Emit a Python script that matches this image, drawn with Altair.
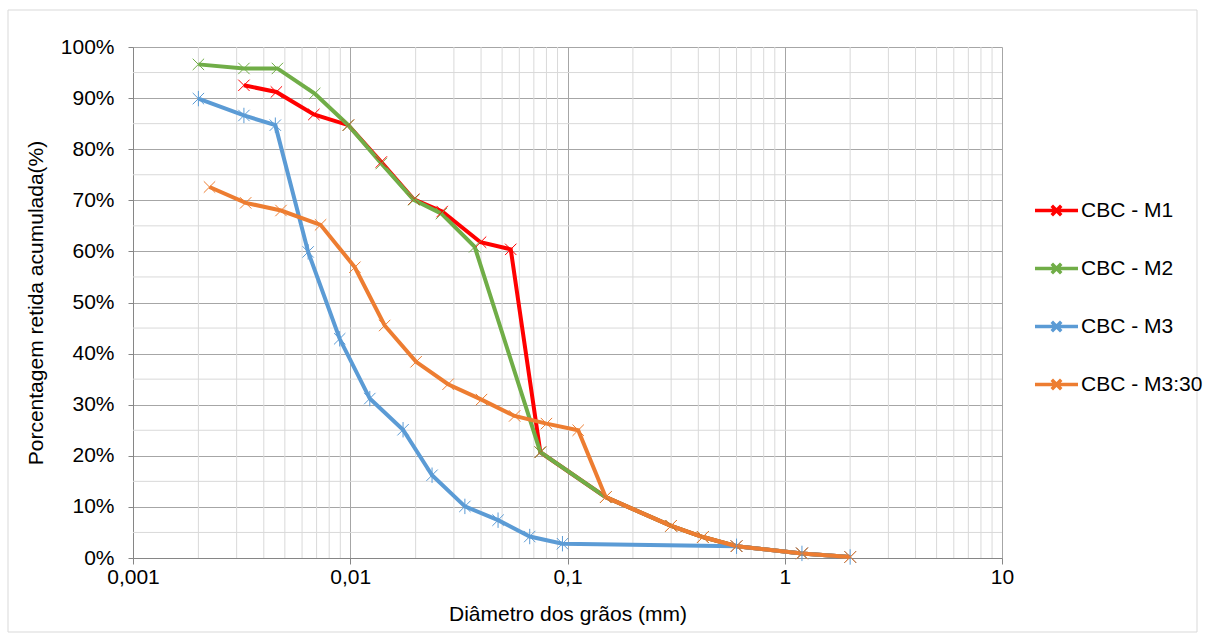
import altair as alt
import pandas as pd

series_names = ["CBC - M1", "CBC - M2", "CBC - M3", "CBC - M3:30"]
series_colors = ["#FF0000", "#70AD47", "#5B9BD5", "#ED7D31"]

m1_d = [0.00324, 0.00457, 0.0068, 0.0098, 0.0139, 0.0196, 0.0265, 0.0398, 0.0548, 0.075, 0.15, 0.3, 0.42, 0.6, 1.2, 2.0]
m1_p = [92.5, 91.2, 86.8, 84.7, 77.5, 70.2, 67.8, 61.8, 60.4, 20.7, 11.9, 6.3, 4.1, 2.3, 0.9, 0.2]
m2_d = [0.002, 0.00324, 0.00462, 0.00686, 0.0098, 0.0139, 0.0196, 0.0263, 0.0374, 0.075, 0.15, 0.3, 0.42, 0.6, 1.2, 2.0]
m2_p = [96.6, 95.8, 95.8, 90.9, 84.7, 77.2, 70.1, 67.4, 60.9, 20.7, 11.9, 6.3, 4.1, 2.3, 0.9, 0.2]
m3_d = [0.002, 0.00324, 0.00452, 0.0064, 0.00894, 0.0123, 0.0175, 0.0238, 0.0337, 0.0479, 0.067, 0.0948, 0.6, 1.2, 2.0]
m3_p = [89.9, 86.6, 84.7, 59.9, 42.9, 31.2, 25.1, 16.2, 10.1, 7.4, 4.2, 2.8, 2.3, 0.9, 0.2]
m330_d = [0.00225, 0.0033, 0.0048, 0.0073, 0.0105, 0.0144, 0.0201, 0.0282, 0.0402, 0.0571, 0.080, 0.112, 0.15, 0.3, 0.42, 0.6, 1.2, 2.0]
m330_p = [72.6, 69.5, 68.0, 65.2, 56.9, 45.5, 38.4, 34.0, 31.0, 27.8, 26.3, 25.0, 11.9, 6.3, 4.1, 2.3, 0.9, 0.2]

x_major = [0.001, 0.01, 0.1, 1, 10]
x_minor = [0.002, 0.003, 0.004, 0.005, 0.006, 0.007, 0.008, 0.009,
           0.02, 0.03, 0.04, 0.05, 0.06, 0.07, 0.08, 0.09,
           0.2, 0.3, 0.4, 0.5, 0.6, 0.7, 0.8, 0.9,
           2, 3, 4, 5, 6, 7, 8, 9]
y_major = [0, 10, 20, 30, 40, 50, 60, 70, 80, 90, 100]
y_minor = [5, 15, 25, 35, 45, 55, 65, 75, 85, 95]

rows = []
for name, ds, ps in zip(series_names, [m1_d, m2_d, m3_d, m330_d], [m1_p, m2_p, m3_p, m330_p]):
    for d, p in zip(ds, ps):
        rows.append({"serie": name, "d": d, "p": p})
df = pd.DataFrame(rows)

X_PATH = "M-1,-1L1,1M-1,1L1,-1"
STAR_PATH = "M-1,-1L1,1M-1,1L1,-1M0,-1.35L0,1.35"
LEG_PATH = "M-1,0L1,0M-0.22,-0.22L0.22,0.22M-0.22,0.22L0.22,-0.22"

FS = 21
xscale = alt.Scale(type="log", domain=[0.001, 10])
yscale = alt.Scale(domain=[0, 100], nice=False)

x_axis = alt.Axis(values=x_major, title="Diâmetro dos grãos (mm)",
                  labelExpr="replace(toString(datum.value), '.', ',')",
                  grid=True, gridColor="#a6a6a6", domainColor="#868686", tickColor="#868686",
                  tickSize=6, labelFontSize=FS, titleFontSize=FS, labelPadding=2, titlePadding=16,
                  labelFont="Liberation Sans", titleFont="Liberation Sans",
                  labelColor="#000000", titleColor="#000000", titleFontWeight="normal",
                  labelFlush=False)
y_axis = alt.Axis(values=y_major, title="Porcentagem retida acumulada(%)",
                  labelExpr="datum.value + '%'",
                  grid=True, gridColor="#a6a6a6", domainColor="#868686", tickColor="#868686",
                  tickSize=5, labelFontSize=FS, titleFontSize=FS, labelPadding=14, titlePadding=14,
                  labelFont="Liberation Sans", titleFont="Liberation Sans",
                  labelColor="#000000", titleColor="#000000", titleFontWeight="normal")

color = alt.Color("serie:N", scale=alt.Scale(domain=series_names, range=series_colors),
                  legend=alt.Legend(title=None, orient="none", legendX=900, legendY=140,
                                    symbolType=LEG_PATH, symbolSize=1850, symbolStrokeWidth=3.5,
                                    labelFontSize=FS, labelFont="Liberation Sans", labelColor="#000000",
                                    rowPadding=22, labelOffset=1, labelLimit=300))

grid_minor_x = alt.Chart(pd.DataFrame({"v": x_minor})).mark_rule(color="#d9d9d9", strokeWidth=1).encode(
    x=alt.X("v:Q", scale=xscale, axis=x_axis))
grid_minor_y = alt.Chart(pd.DataFrame({"v": y_minor})).mark_rule(color="#d9d9d9", strokeWidth=1).encode(
    y=alt.Y("v:Q", scale=yscale, axis=y_axis))

lines = alt.Chart(df).mark_line(strokeWidth=4).encode(
    x=alt.X("d:Q", scale=xscale, axis=x_axis),
    y=alt.Y("p:Q", scale=yscale, axis=y_axis),
    color=color,
    order=alt.Order("d:Q"),
)

points = alt.Chart(df).mark_point(filled=False, strokeWidth=1, size=130, opacity=1).encode(
    x=alt.X("d:Q", scale=xscale, axis=x_axis),
    y=alt.Y("p:Q", scale=yscale, axis=y_axis),
    color=alt.Color("serie:N", scale=alt.Scale(domain=series_names, range=series_colors), legend=None),
    shape=alt.Shape("serie:N", scale=alt.Scale(domain=series_names,
                                               range=[X_PATH, X_PATH, STAR_PATH, X_PATH]), legend=None),
)

frame = alt.Chart(pd.DataFrame({"a": [0]})).mark_rect(fill=None, stroke="#d9d9d9", strokeWidth=1).encode(
    x=alt.value(-125), x2=alt.value(1064), y=alt.value(-37), y2=alt.value(585))

chart = alt.layer(grid_minor_x, grid_minor_y, lines, points, frame).resolve_scale(
    shape="independent"
).properties(
    width=869, height=511,
    autosize=alt.AutoSizeParams(type="none"),
    padding={"left": 133, "top": 47, "right": 203, "bottom": 85},
    background="#ffffff",
).configure_view(stroke=None)

chart.save("out.html", embed_options={"renderer": "svg", "actions": False})
